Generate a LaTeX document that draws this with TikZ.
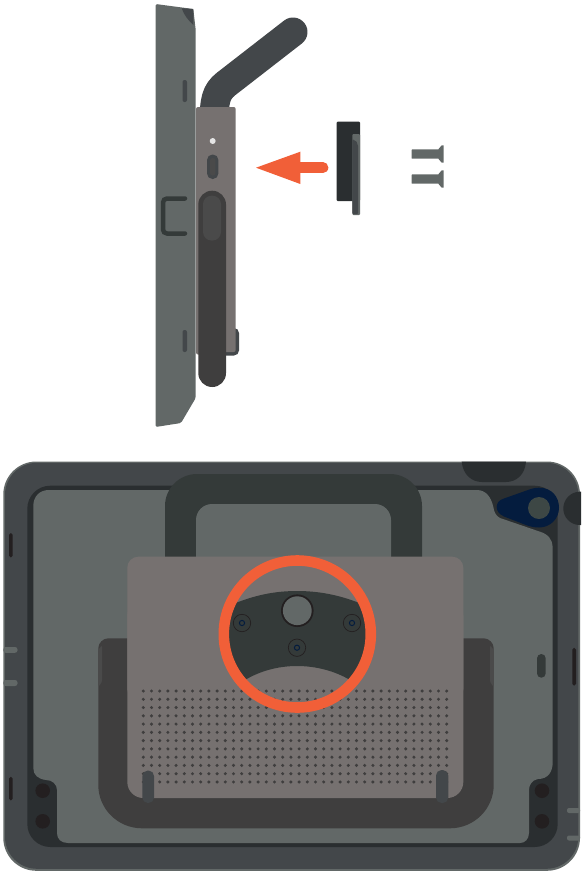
\documentclass[tikz,border=0pt]{standalone}
\usepackage{xcolor}
\usepackage{tikz}
\definecolor{casegray}{RGB}{98,104,103}
\definecolor{frameslate}{RGB}{67,71,74}
\definecolor{framedark}{RGB}{42,46,48}
\definecolor{plategray}{RGB}{118,113,112}
\definecolor{gripdark}{RGB}{63,62,62}
\definecolor{griplight}{RGB}{74,74,74}
\definecolor{mountdark}{RGB}{52,58,57}
\definecolor{pointorange}{RGB}{241,95,56}
\definecolor{latchnavy}{RGB}{4,28,62}
\definecolor{holeblack}{RGB}{35,31,32}
\definecolor{studgray}{RGB}{61,71,69}

\begin{document}
\begin{tikzpicture}[x=1pt,y=-1pt,
    screwring/.style={draw=holeblack,line width=0.7pt},
    screwcore/.style={draw=latchnavy,line width=1pt},
    screwbody/.style={fill=casegray},
    cornerhole/.style={fill=holeblack}]
    \useasboundingbox (0,0) rectangle (582,871);

    % Side view: upper handle
    \draw[frameslate,line width=29pt,line cap=round] (293,32) -- (226,84) .. controls (216,92) and (214,100) .. (214,125);

    % Side view: case
    \fill[casegray,rounded corners=1.5pt] (155.5,4) -- (193.3,9) -- (195.7,30) -- (195.7,398) -- (181,423) -- (155.5,427) -- cycle;
    \fill[frameslate] (181.7,8.3) -- (193.3,9) -- (193.3,25) .. controls (188,20) and (184,15) .. cycle;
    \fill[frameslate,rounded corners=2pt] (182.5,80) rectangle (187,102);
    \fill[frameslate,rounded corners=2pt] (182.5,330) rectangle (187,352);
    \draw[mountdark,line width=4.5pt,line cap=round,rounded corners=4pt] (185,198.5) -- (163,198.5) -- (163,233.5) -- (185,233.5);

    % Side view: plate and lower handle
    \fill[frameslate,rounded corners=5pt] (215,328) rectangle (239,355.5);
    \fill[plategray,rounded corners=2pt] (196,107) -- (235.7,107) -- (235.7,352) -- (210,352) -- (210,354.5) -- (196,354.5) -- cycle;
    \fill[gripdark,rounded corners=13.8pt] (198.3,190.7) rectangle (226,387);
    \fill[griplight,rounded corners=8.5pt] (203,195.7) rectangle (221,240.5);
    \fill[white!90!black] (212.7,141) circle (3);
    \fill[frameslate,rounded corners=5.5pt] (207,154.5) rectangle (218.4,179);
    \fill[griplight,rounded corners=2.5pt] (210,158) rectangle (215.4,175.5);

    % Side view: removed latch
    \fill[framedark,rounded corners=1pt] (336.7,121.7) rectangle (360,201);
    \fill[casegray,rounded corners=1pt] (352.3,134) rectangle (360,215);
    \fill[frameslate,rounded corners=1pt] (352.3,139.5) .. controls (356,140) and (358,143) .. (358,147) -- (358,214) -- (352.3,214) -- cycle;

    % Side view: arrow
    \fill[pointorange] (256,167.7) -- (300.3,151.7) -- (300.3,184) -- cycle;
    \draw[pointorange,line width=10.7pt,line cap=round] (298,167.7) -- (323,167.7);

    % Side view: screws
    \foreach \ypos in {0,25} {
        \fill[screwbody,rounded corners=0.5pt] (411.7,149.3+\ypos) rectangle (439,158.7+\ypos);
        \fill[screwbody] (438.3,149.3+\ypos) -- (441.7,145.3+\ypos) -- (443.7,145.3+\ypos) -- (443.7,162.7+\ypos) -- (441.7,162.7+\ypos) -- (438.3,158.7+\ypos) -- cycle;
    }

    % Back view: shell
    \fill[casegray,rounded corners=33pt] (3.3,461.5) rectangle (580,870.8);
    \fill[frameslate,rounded corners=32pt] (5,462.8) rectangle (578.3,868.8);
    \fill[framedark,rounded corners=23pt] (27.3,485.7) rectangle (557.7,847);
    \fill[framedark] (461.7,461.7) .. controls (463,475) and (472,482) .. (482,482) -- (506,482) .. controls (516,482) and (525,475) .. (526,461.7) -- cycle;
    \fill[framedark] (580,491.7) .. controls (570,491.7) and (563.3,500) .. (563.3,508.5) .. controls (563.3,517) and (570,525) .. (580,525) -- (581,525) -- (581,491.7) -- cycle;

    % Back view: inner panel
    \fill[casegray] (49,490) -- (476.7,490) .. controls (486,490) and (491,497) .. (493.3,506.7) .. controls (494,512) and (496,516) .. (500,518) -- (540,531.7) .. controls (548,534) and (552.7,540) .. (552.7,547)
        -- (552.7,762) .. controls (552.7,772) and (548,779) .. (538,779) .. controls (532,780) and (529,785) .. (529,790)
        -- (529,833) .. controls (529,839) and (525,843) .. (520,843) -- (68,843) .. controls (61,843) and (57,839) .. (57,833)
        -- (57,790) .. controls (57,784) and (52,780) .. (46,780) .. controls (38,779) and (33.3,775) .. (33.3,768)
        -- (33.3,506) .. controls (33.3,496) and (40,490) .. (49,490) -- cycle;

    % Back view: latch at the corner
    \fill[latchnavy] (539,487.7) .. controls (552,487.7) and (559,497) .. (559,507.7) .. controls (559,519) and (550,527.5) .. (539,527.5) .. controls (534,527.5) and (530,526.5) .. (526,525)
        -- (504,516.5) .. controls (499,514) and (496.7,511) .. (496.7,507) .. controls (496.7,503) and (499,500) .. (504,498.5) -- (528,490) .. controls (532,488.5) and (535,487.7) .. (539,487.7) -- cycle;
    \fill[studgray] (539,508) circle (11);

    % Back view: shell details
    \fill[holeblack,rounded corners=1.8pt] (9,533) rectangle (12.7,557.5);
    \fill[holeblack,rounded corners=1.8pt] (9,776.7) rectangle (12.7,800.5);
    \fill[holeblack,rounded corners=1.8pt] (572.3,647.7) rectangle (576,685.7);
    \fill[mountdark,rounded corners=4.3pt] (537,654) rectangle (545.7,677.7);
    \fill[casegray,rounded corners=2.5pt] (3.3,647) rectangle (17.5,652.8);
    \fill[casegray,rounded corners=2.5pt] (3.3,680) rectangle (17.5,686);
    \fill[casegray,rounded corners=2pt] (567,808) rectangle (580,813);
    \fill[casegray,rounded corners=2pt] (567,835.5) rectangle (580,840.5);
    \foreach \xpos/\ypos in {42.7/790.7,42.7/821.3,542/790.7,542/821.3}
        \fill[cornerhole] (\xpos,\ypos) circle (7.3);

    % Back view: top handle
    \fill[mountdark,rounded corners=32pt] (165,474) rectangle (422,600);
    \fill[casegray,rounded corners=16pt] (196,504) rectangle (391,600);

    % Back view: lower grip
    \fill[gripdark] (108.3,638.3) -- (483.7,638.3) .. controls (489,638.3) and (493.7,643) .. (493.7,648.3) -- (493.7,785) .. controls (493.7,809) and (474,828.3) .. (450,828.3)
        -- (142,828.3) .. controls (118,828.3) and (98.3,809) .. (98.3,785) -- (98.3,648.3) .. controls (98.3,643) and (103,638.3) .. (108.3,638.3) -- cycle;
    \fill[griplight,rounded corners=1.5pt] (98.3,650) -- (102,645) -- (102,682) -- (98.3,687) -- cycle;
    \fill[griplight,rounded corners=1.5pt] (493.7,650) -- (490,645) -- (490,682) -- (493.7,687) -- cycle;

    % Back view: plate
    \fill[plategray,rounded corners=11pt] (127.3,556.7) rectangle (463.3,700);
    \fill[plategray,rounded corners=16pt] (127.3,600) rectangle (463.3,798);
    \foreach \col in {0,...,37}
        \foreach \row in {0,...,11}
            \fill[gripdark] (143.3+\col*8.2,691+\row*8.27) circle (1.7);
    \fill[frameslate,rounded corners=5.5pt] (142.3,770.5) -- (154,770.5) -- (154,803) -- (142.3,803) -- cycle;
    \fill[frameslate,rounded corners=5.5pt] (436,770) -- (448.3,770) -- (448.3,803) -- (436,803) -- cycle;

    % Back view: mount inside the ring
    \begin{scope}
        \clip (297.3,634) circle (70);
        \fill[mountdark] (235,603.3) .. controls (258,594) and (278,591) .. (297,591) .. controls (316,591) and (337,594) .. (360,603.3) -- (380,640) -- (350,680) .. controls (335,671) and (316,666) .. (297,666) .. controls (278,666) and (260,671) .. (245,680) -- (215,640) -- cycle;
    \end{scope}
    \fill[holeblack] (297.3,610.7) circle (16.3);
    \fill[casegray] (297.3,610.7) circle (14.4);
    \foreach \xpos/\ypos in {242/623,352/623,297/647.7} {
        \draw[screwring] (\xpos,\ypos) circle (8.7);
        \draw[screwcore] (\xpos,\ypos) circle (2.6);
    }

    % Back view: ring
    \draw[pointorange,line width=10.6pt] (297.3,634) circle (73.5);
\end{tikzpicture}
\end{document}
